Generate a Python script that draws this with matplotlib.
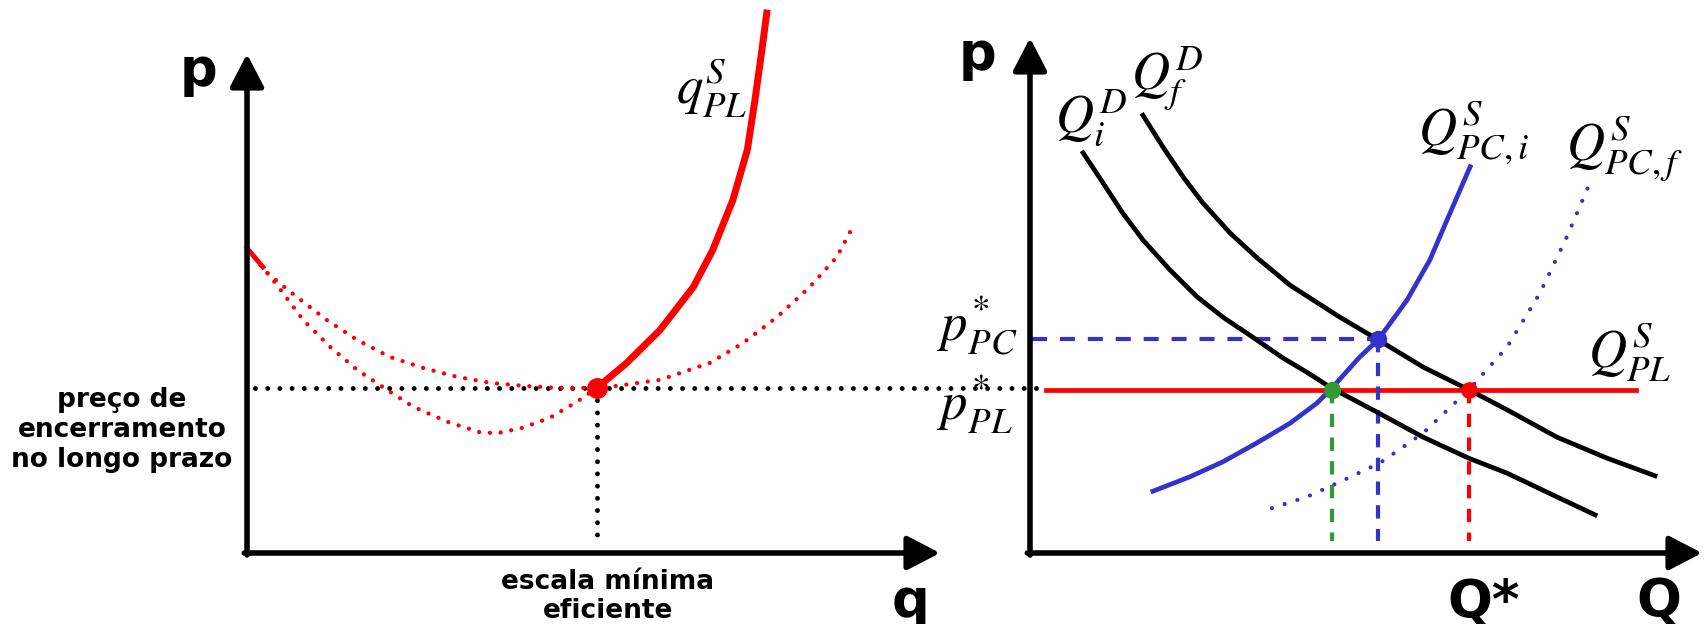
import matplotlib
matplotlib.use('Agg')
import matplotlib.pyplot as plt

plt.rcParams['mathtext.fontset'] = 'stix'
plt.rcParams['font.family'] = ['DejaVu Sans']

W, H = 1704, 624

# ---- painel esquerdo: empresa no longo prazo ----
# custo medio de longo prazo (pontilhado)
lrac_q = [0.0, 0.29, 0.72, 1.15, 1.59, 2.06, 2.54, 3.03, 3.51, 3.98, 4.47, 5.05,
          5.24, 5.96, 6.68, 7.16, 7.65, 8.12, 8.51, 8.77]
lrac_p = [6.11, 5.61, 5.13, 4.67, 4.27, 3.93, 3.71, 3.53, 3.41, 3.35, 3.31, 3.31,
          3.33, 3.47, 3.81, 4.21, 4.73, 5.33, 5.93, 6.61]
# custo marginal de longo prazo (pontilhado)
lrmc_q = [0.0, 0.23, 0.52, 0.81, 1.20, 1.59, 2.02, 2.40, 2.89, 3.36, 3.61, 3.98,
          4.37, 4.76, 5.05, 5.48, 5.96, 6.44, 6.72]
lrmc_p = [6.11, 5.73, 5.21, 4.67, 4.13, 3.67, 3.27, 2.93, 2.63, 2.42, 2.40, 2.51,
          2.71, 3.03, 3.31, 3.81, 4.47, 5.33, 6.07]
# oferta da empresa q^S_PL (solido)
supply_q = [5.05, 5.48, 5.96, 6.44, 6.72, 7.01, 7.22, 7.33, 7.43, 7.50]
supply_p = [3.31, 3.81, 4.47, 5.33, 6.07, 7.07, 8.08, 9.08, 10.08, 10.82]
mes_q = 5.05      # escala minima eficiente
shut_p = 3.31     # preco de encerramento
shut_line_q = [0.12, 11.45]

# ---- painel direito: mercado ----
dem_i_Q = [0.79, 1.09, 1.38, 1.68, 2.08, 2.49, 2.87, 3.27, 3.76, 4.12, 4.49, 5.10,
           5.85, 6.53, 7.10, 7.84, 8.41]
dem_i_p = [7.77, 7.18, 6.60, 6.08, 5.50, 4.97, 4.58, 4.23, 3.79, 3.51, 3.20, 2.78,
           2.25, 1.84, 1.55, 1.09, 0.74]
dem_f_Q = [1.68, 1.98, 2.28, 2.57, 2.98, 3.38, 3.87, 4.61, 5.18, 5.85, 6.53, 7.10,
           7.84, 8.59, 9.30]
dem_f_p = [8.50, 7.88, 7.30, 6.80, 6.21, 5.73, 5.20, 4.58, 4.14, 3.61, 3.17, 2.78,
           2.25, 1.84, 1.50]
sup_i_Q = [1.83, 2.38, 2.87, 3.38, 3.87, 4.27, 4.49, 4.91, 5.18, 5.61, 5.95, 6.25, 6.55]
sup_i_p = [1.20, 1.48, 1.77, 2.14, 2.52, 2.91, 3.20, 3.81, 4.14, 4.91, 5.69, 6.60, 7.50]
sup_f_Q = [3.60, 4.12, 4.61, 5.21, 5.85, 6.53, 7.10, 7.59, 7.99, 8.30]
sup_f_p = [0.87, 1.09, 1.38, 1.75, 2.33, 3.17, 4.00, 5.05, 6.14, 7.09]
p_pl = 3.17
p_pc = 4.15
Q_green = 4.49
Q_blue = 5.18
Q_star = 6.53
pl_line_Q = [0.24, 9.02]
drop_to = 0.23

RED = '#ff0000'
BLUE = '#3333cc'
GREEN = '#339933'


def px(x, y):
    return x / W, 1 - y / H


fig = plt.figure(figsize=(W / 100, H / 100), dpi=100)
ax1 = fig.add_axes([247 / W, (H - 553) / H, (940 - 247) / W, (553 - 54) / H])
ax2 = fig.add_axes([1030 / W, (H - 553) / H, (1702 - 1030) / W, (553 - 38) / H])

for ax in (ax1, ax2):
    ax.set_xlim(0, 10)
    ax.set_ylim(0, 10)
    ax.axis('off')
    arr = dict(arrowstyle='-|>,head_length=0.5,head_width=0.26', lw=4, color='black',
               mutation_scale=40, shrinkA=0, shrinkB=0)
    ax.annotate('', xy=(1, 0), xytext=(-0.004, 0), xycoords='axes fraction', arrowprops=arr)
    ax.annotate('', xy=(0, 1), xytext=(0, -0.004), xycoords='axes fraction', arrowprops=arr)

dots = dict(dash_capstyle='round', solid_capstyle='round')

# painel esquerdo
ax1.plot(shut_line_q, [shut_p, shut_p], color='black', lw=3.5, ls=(0, (0.01, 2.5)),
         clip_on=False, **dots)
ax1.plot([mes_q, mes_q], [shut_p, 0.18], color='black', lw=3.5, ls=(0, (0.01, 2.5)), **dots)
ax1.plot(lrac_q, lrac_p, color=RED, lw=3.1, ls=(0, (0.01, 2.5)), clip_on=False, **dots)
ax1.plot(lrmc_q, lrmc_p, color=RED, lw=3.1, ls=(0, (0.01, 2.5)), clip_on=False, **dots)
ax1.plot(lrmc_q[:2], lrmc_p[:2], color=RED, lw=3.5, clip_on=False)
ax1.plot(supply_q, supply_p, color=RED, lw=5, clip_on=False, solid_joinstyle='round')
ax1.plot([mes_q], [shut_p], 'o', color=RED, ms=14, zorder=5)

# painel direito
ax2.plot(pl_line_Q, [p_pl, p_pl], color=RED, lw=3.4)
ax2.plot([0.03, Q_blue], [p_pc, p_pc], color=BLUE, lw=3, ls=(0, (3.6, 3.1)))
ax2.plot([Q_green, Q_green], [p_pl, drop_to], color=GREEN, lw=3, ls=(0, (3.2, 2.5)))
ax2.plot([Q_blue, Q_blue], [p_pc, drop_to], color=BLUE, lw=3, ls=(0, (3.2, 2.5)))
ax2.plot([Q_star, Q_star], [p_pl, drop_to], color=RED, lw=3, ls=(0, (3.2, 2.5)))
ax2.plot(dem_i_Q, dem_i_p, color='black', lw=3.4, solid_joinstyle='round')
ax2.plot(dem_f_Q, dem_f_p, color='black', lw=3.4, solid_joinstyle='round')
ax2.plot(sup_i_Q, sup_i_p, color=BLUE, lw=3.4, solid_joinstyle='round')
ax2.plot(sup_f_Q, sup_f_p, color=BLUE, lw=3, ls=(0, (0.01, 3.2)), **dots)
ax2.plot([Q_green], [p_pl], 'o', color=GREEN, ms=11.5, zorder=5)
ax2.plot([Q_blue], [p_pc], 'o', color=BLUE, ms=11.5, zorder=5)
ax2.plot([Q_star], [p_pl], 'o', color=RED, ms=11, zorder=5)

# textos em negrito
bold = dict(fontweight='bold', fontsize=38, ha='left', va='baseline', color='black')
fig.text(*px(180, 86), 'p', **bold)
fig.text(*px(959, 70), 'p', **bold)
fig.text(*px(892, 617), 'q', **bold)
fig.text(*px(1447, 617), 'Q*', **bold)
fig.text(*px(1636, 617), 'Q', **bold)
fig.text(*px(122, 430), 'preço de\nencerramento\nno longo prazo', fontweight='bold',
         fontsize=19, ha='center', va='center', linespacing=1.2)
fig.text(*px(608, 569), 'escala mínima\neficiente', fontweight='bold',
         fontsize=19, ha='center', va='top', linespacing=1.15)

# rotulos matematicos
m = dict(fontsize=38, ha='left', va='baseline', color='black')
fig.text(*px(676, 104), r'$q_{PL}^{S}$', **m)
fig.text(*px(1055, 133), r'$Q_{i}^{D}$', **m)
fig.text(*px(1131, 90), r'$Q_{f}^{D}$', **m)
fig.text(*px(1418, 145), r'$Q_{PC,i}^{S}$', **m)
fig.text(*px(1566, 160), r'$Q_{PC,f}^{S}$', **m)
fig.text(*px(1588, 368), r'$Q_{PL}^{S}$', **m)
fig.text(*px(937, 340), r'$p_{PC}^{*}$', **m)
fig.text(*px(937, 420), r'$p_{PL}^{*}$', **m)

fig.savefig('out.png', dpi=100)
